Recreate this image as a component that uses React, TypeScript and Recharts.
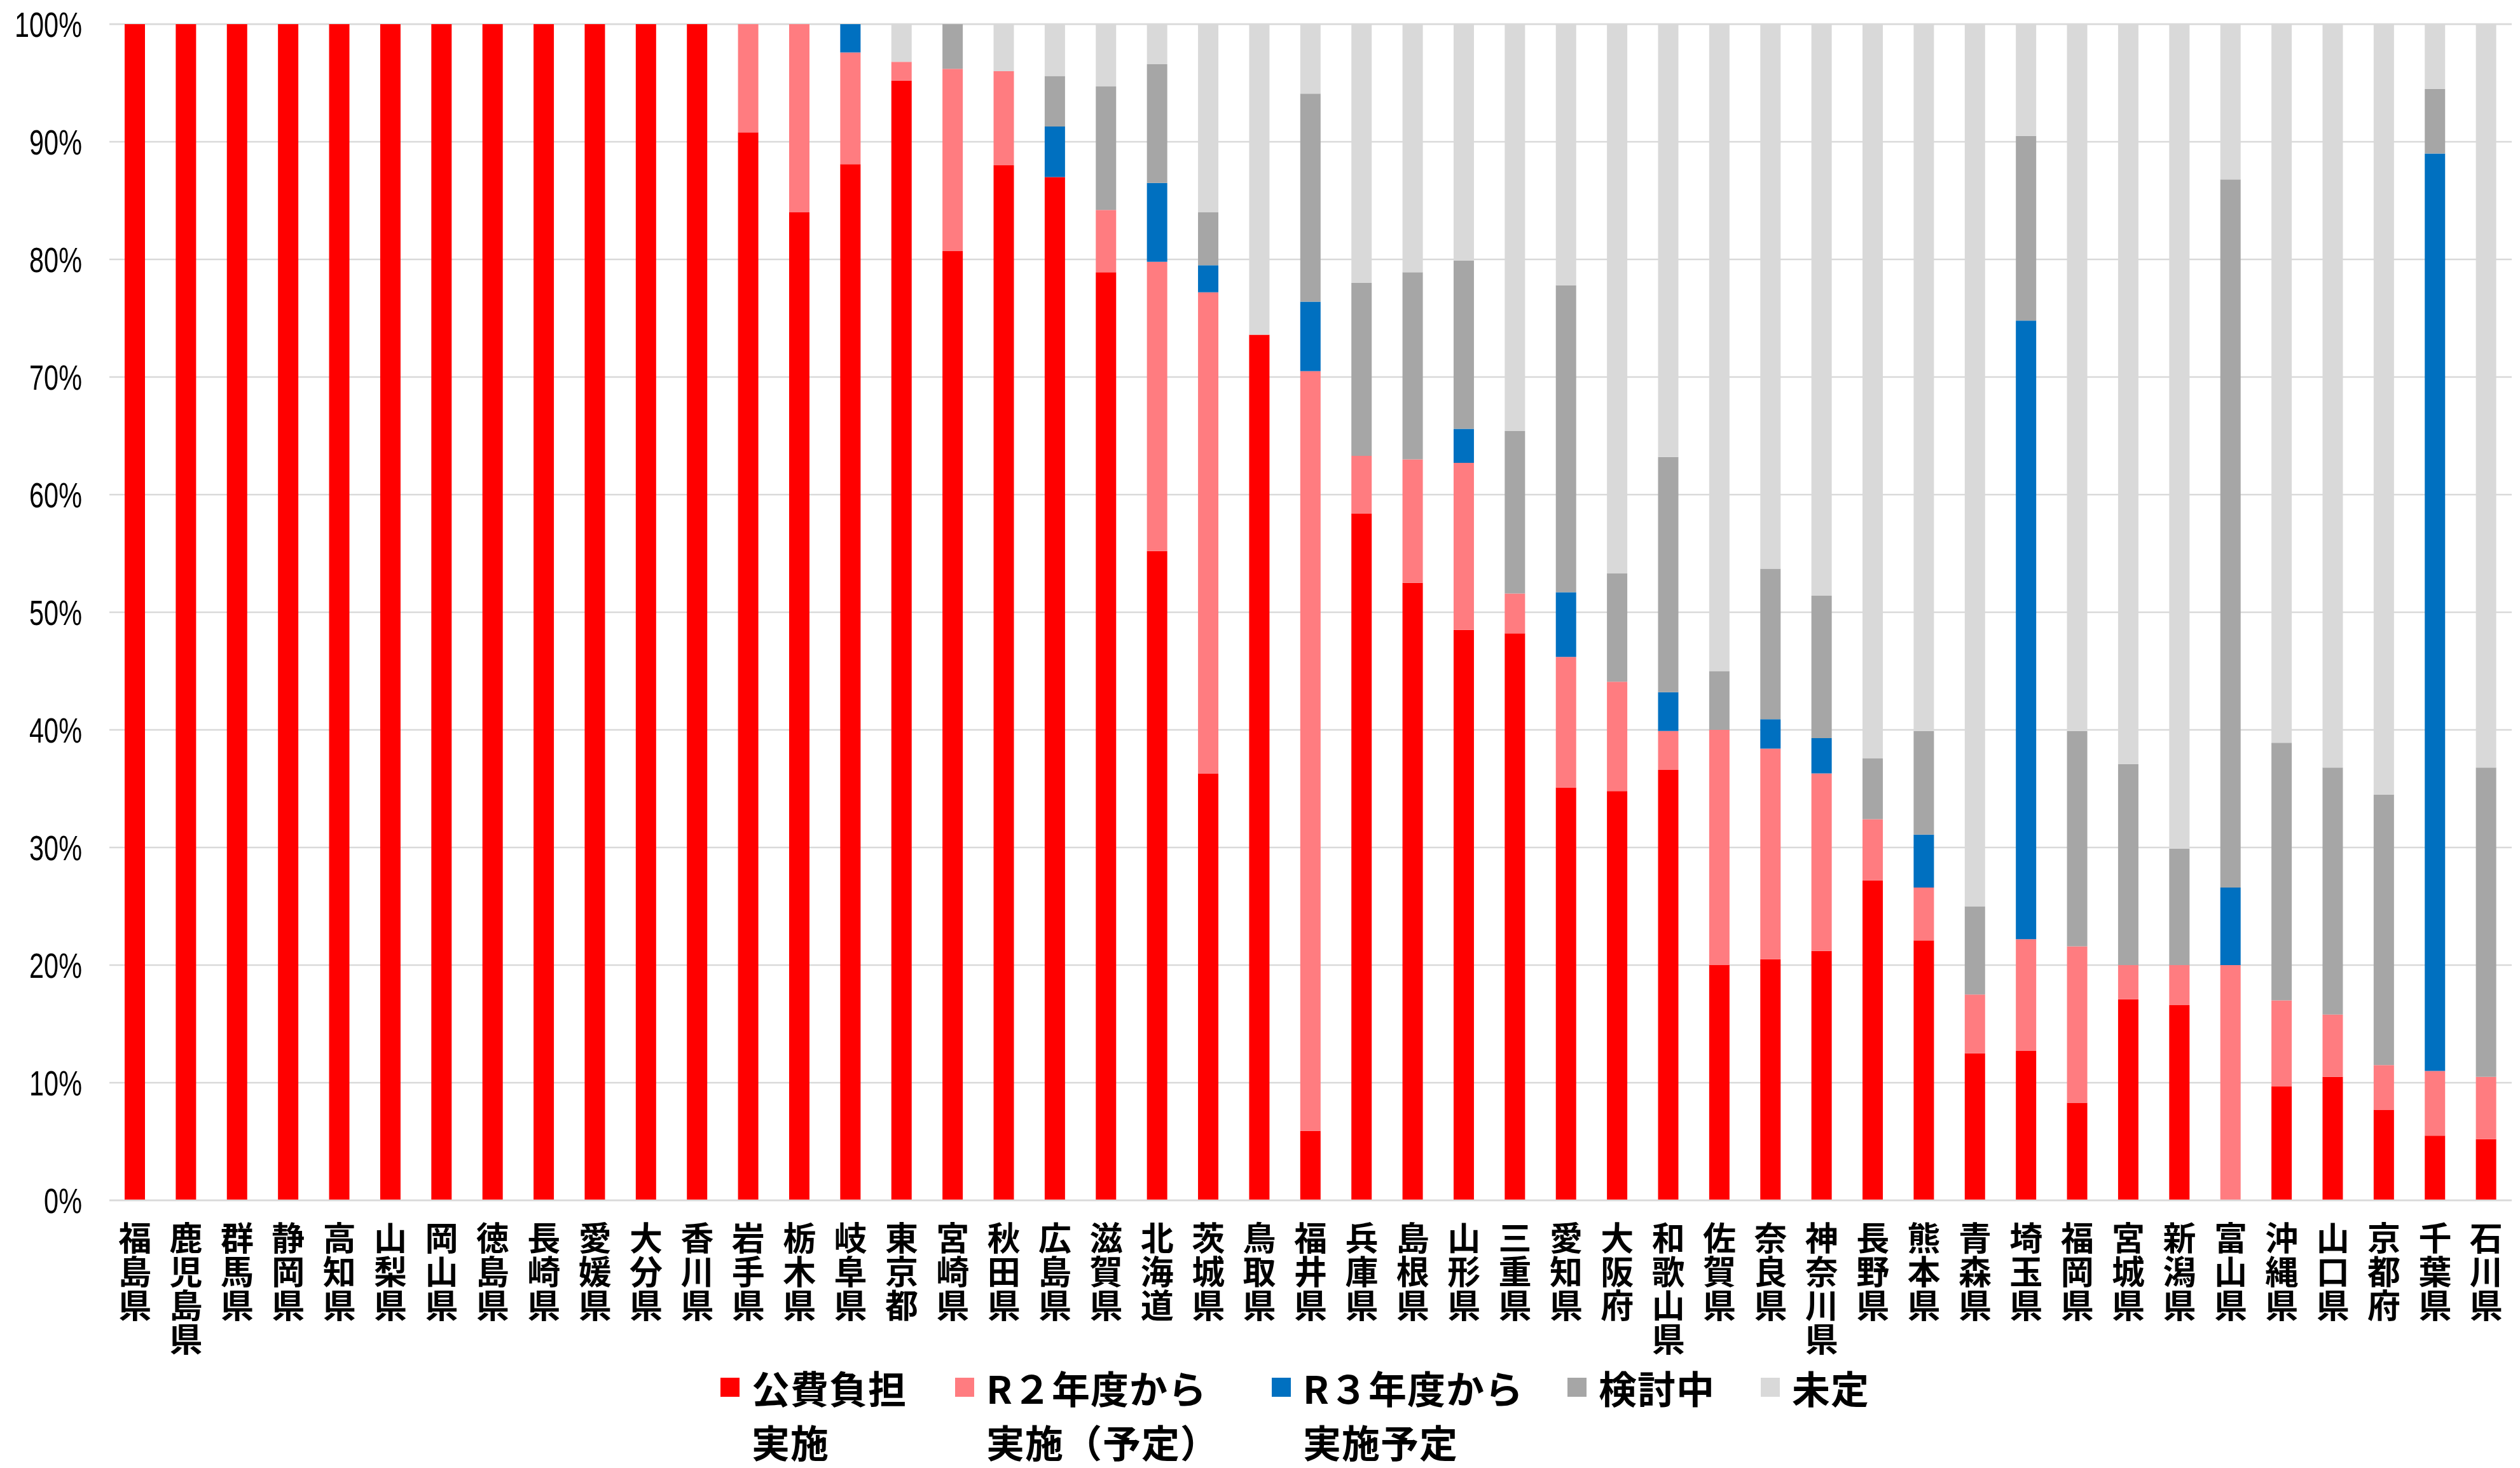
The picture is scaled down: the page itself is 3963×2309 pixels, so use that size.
import { BarChart, Bar, XAxis, YAxis, CartesianGrid, Legend } from 'recharts';

const PREFS = [
  '福島県', '鹿児島県', '群馬県', '静岡県', '高知県', '山梨県', '岡山県', '徳島県', '長崎県', '愛媛県',
  '大分県', '香川県', '岩手県', '栃木県', '岐阜県', '東京都', '宮崎県', '秋田県', '広島県', '滋賀県',
  '北海道', '茨城県', '鳥取県', '福井県', '兵庫県', '島根県', '山形県', '三重県', '愛知県', '大阪府',
  '和歌山県', '佐賀県', '奈良県', '神奈川県', '長野県', '熊本県', '青森県', '埼玉県', '福岡県', '宮城県',
  '新潟県', '富山県', '沖縄県', '山口県', '京都府', '千葉県', '石川県',
];

// 公費負担実施
const PUBLIC = [
  100, 100, 100, 100, 100, 100, 100, 100, 100, 100,
  100, 100, 90.8, 84.0, 88.1, 95.2, 80.7, 88.0, 87.0, 78.9,
  55.2, 36.3, 73.6, 5.9, 58.4, 52.5, 48.5, 48.2, 35.1, 34.8,
  36.6, 20.0, 20.5, 21.2, 27.2, 22.1, 12.5, 12.7, 8.3, 17.1,
  16.6, 0, 9.7, 10.5, 7.7, 5.5, 5.2,
];
// R２年度から実施（予定）
const R2 = [
  0, 0, 0, 0, 0, 0, 0, 0, 0, 0,
  0, 0, 9.2, 16.0, 9.5, 1.6, 15.5, 8.0, 0, 5.3,
  24.6, 40.9, 0, 64.6, 4.9, 10.5, 14.2, 3.4, 11.1, 9.3,
  3.3, 20.0, 17.9, 15.1, 5.2, 4.5, 5.0, 9.5, 13.3, 2.9,
  3.4, 20.0, 7.3, 5.3, 3.8, 5.5, 5.3,
];
// R３年度から実施予定
const R3 = [
  0, 0, 0, 0, 0, 0, 0, 0, 0, 0,
  0, 0, 0, 0, 2.4, 0, 0, 0, 4.3, 0,
  6.7, 2.3, 0, 5.9, 0, 0, 2.9, 0, 5.5, 0,
  3.3, 0, 2.5, 3.0, 0, 4.5, 0, 52.6, 0, 0,
  0, 6.6, 0, 0, 0, 78.0, 0,
];
// 検討中
const REVIEW = [
  0, 0, 0, 0, 0, 0, 0, 0, 0, 0,
  0, 0, 0, 0, 0, 0, 3.8, 0, 4.3, 10.5,
  10.1, 4.5, 0, 17.7, 14.7, 15.9, 14.3, 13.8, 26.1, 9.2,
  20.0, 5.0, 12.8, 12.1, 5.2, 8.8, 7.5, 15.7, 18.3, 17.1,
  9.9, 60.2, 21.9, 21.0, 23.0, 5.5, 26.3,
];
// 未定
const UNDECIDED = [
  0, 0, 0, 0, 0, 0, 0, 0, 0, 0,
  0, 0, 0, 0, 0, 3.2, 0, 4.0, 4.4, 5.3,
  3.4, 16.0, 26.4, 5.9, 22.0, 21.1, 20.1, 34.6, 22.2, 46.7,
  36.8, 55.0, 46.3, 48.6, 62.4, 60.1, 75.0, 9.5, 60.1, 62.9,
  70.1, 13.2, 61.1, 63.2, 65.5, 5.5, 63.2,
];

const Y_TICKS = [0, 10, 20, 30, 40, 50, 60, 70, 80, 90, 100];

const KEYS = ['public', 'r2', 'r3', 'review', 'undecided'];
const LEGEND_LINES = [
  ['公費負担', '実施'],
  ['R２年度から', '実施（予定）'],
  ['R３年度から', '実施予定'],
  ['検討中'],
  ['未定'],
];
const COLORS = ['#FF0000', '#FF7C80', '#0070C0', '#A6A6A6', '#D9D9D9'];
// legend column widths (Excel wraps each entry in its own box)
const LEGEND_WIDTHS = [369, 498, 465, 304, 200];

const data = PREFS.map((pref, i) => ({
  pref,
  public: PUBLIC[i],
  r2: R2[i],
  r3: R3[i],
  review: REVIEW[i],
  undecided: UNDECIDED[i],
}));

const JP_FONT = '"Noto Sans CJK JP", "Noto Sans", sans-serif';

function PrefTick({ x, y, payload }: any) {
  const chars = Array.from(String(payload.value));
  return (
    <text textAnchor="middle" fontFamily={JP_FONT} fontSize={52} fontWeight={700} fill="#000">
      {chars.map((c, i) => (
        <tspan key={i} x={x} y={y + 79 + i * 53}>{c}</tspan>
      ))}
    </text>
  );
}

// condensed percentage labels, like the narrow font in the original
function PctTick({ x, y, payload }: any) {
  return (
    <text
      transform={`translate(${x},${y}) scale(0.74,1)`}
      textAnchor="end"
      dy="0.36em"
      fontFamily='"Liberation Sans", Arial, sans-serif'
      fontSize={56}
      fill="#000"
    >
      {`${payload.value}%`}
    </text>
  );
}

function renderLegend() {
  return (
    <div style={{ height: 177, paddingTop: 7, boxSizing: 'border-box', display: 'flex', paddingLeft: 1133, fontFamily: JP_FONT, fontSize: 60, fontWeight: 700, color: '#000' }}>
      {LEGEND_LINES.map((lines, i) => (
        <div key={i} style={{ display: 'flex', alignItems: 'flex-start', width: LEGEND_WIDTHS[i], flexShrink: 0 }}>
          <div style={{ width: 30, height: 30, background: COLORS[i], marginTop: 28, marginRight: 19, flexShrink: 0 }} />
          <div style={{ lineHeight: '85px', whiteSpace: 'nowrap', letterSpacing: 1 }}>
            {lines.map((l, j) => <div key={j}>{l}</div>)}
          </div>
        </div>
      ))}
    </div>
  );
}

export default function App() {
  return (
    <div style={{ position: 'absolute', left: 0, top: 0, width: 3963, height: 2309, background: '#fff' }}>
      <BarChart
        width={3963}
        height={2309}
        data={data}
        margin={{ top: 38, right: 13, bottom: 0, left: 0 }}
        barSize={32}
      >
        <CartesianGrid vertical={false} stroke="#D9D9D9" strokeWidth={2.5} />
        <XAxis
          dataKey="pref"
          interval={0}
          height={244}
          tick={<PrefTick />}
          tickLine={false}
          tickSize={0}
          tickMargin={0}
          axisLine={{ stroke: '#D9D9D9', strokeWidth: 2.5 }}
        />
        <YAxis
          width={172}
          domain={[0, 100]}
          ticks={Y_TICKS}
          axisLine={false}
          tickLine={false}
          tickSize={0}
          tickMargin={43}
          tick={<PctTick />}
        />
        <Legend verticalAlign="bottom" content={renderLegend} />
        {KEYS.map((k, i) => (
          <Bar key={k} dataKey={k} stackId="a" fill={COLORS[i]} isAnimationActive={false} />
        ))}
      </BarChart>
    </div>
  );
}
